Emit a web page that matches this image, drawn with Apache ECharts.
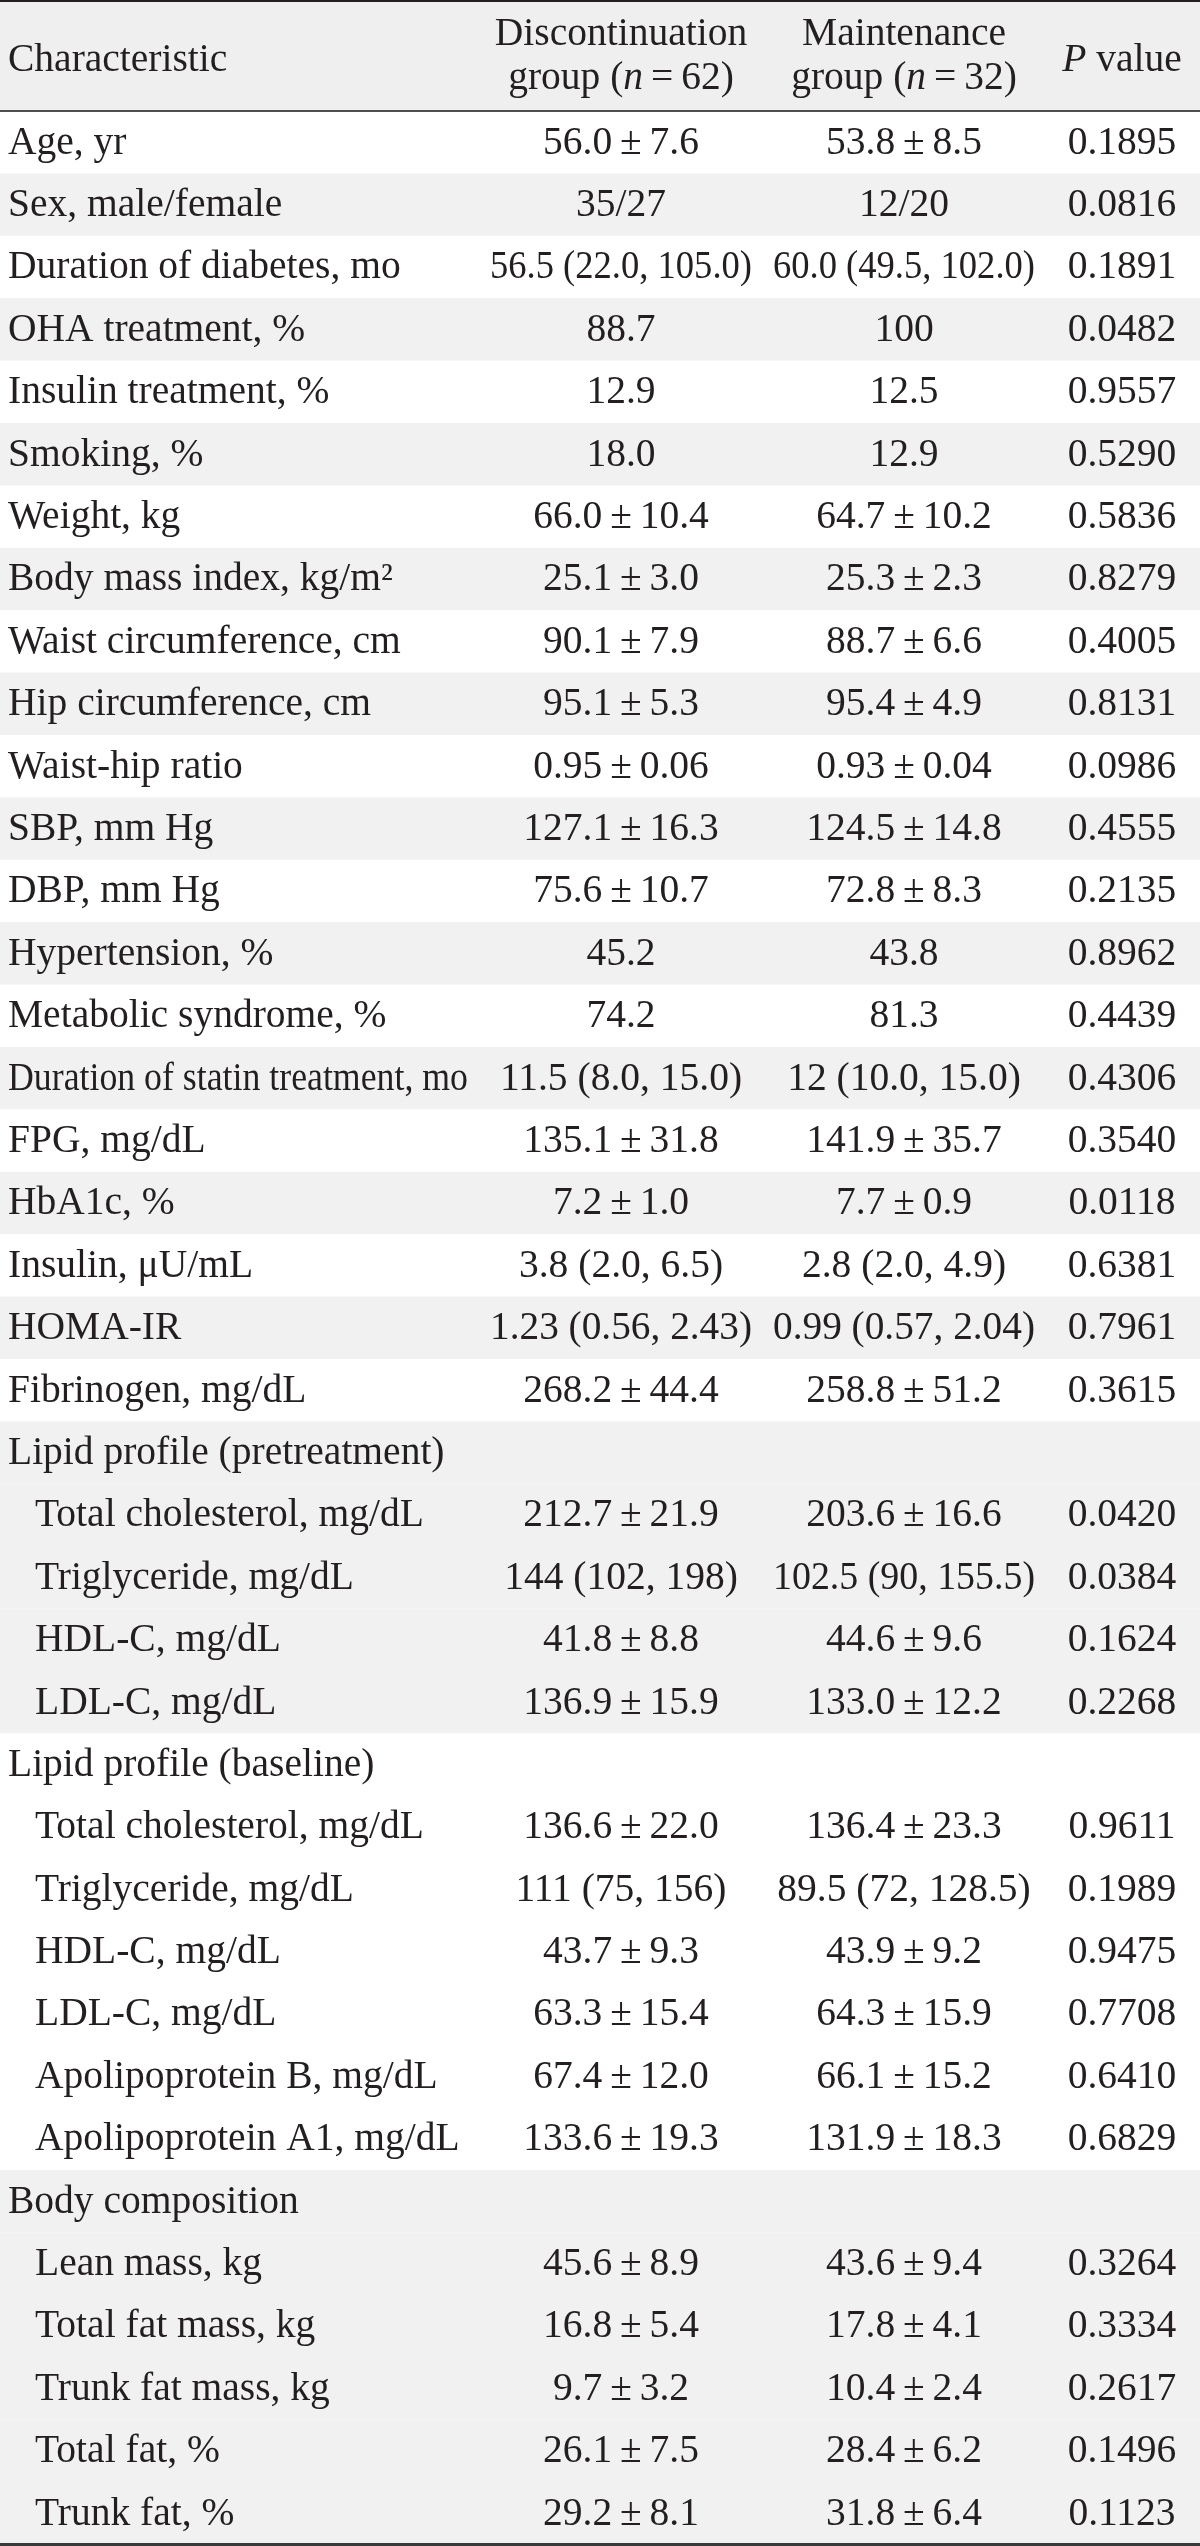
<!DOCTYPE html>
<html>
<head>
<meta charset="utf-8">
<script src="https://cdn.jsdelivr.net/npm/echarts@6/dist/echarts.min.js"></script>
<style>
html,body{margin:0;padding:0;background:#ffffff;}
#chart{width:1200px;height:2546px;}
</style>
</head>
<body>
<div id="chart"></div>
<script>
// ---------------- DATA ----------------
const columnHeaders = ["Characteristic", "Discontinuation\ngroup ({i|n}\u2009=\u200962)", "Maintenance\ngroup ({i|n}\u2009=\u200932)", "{i|P} value"];

const characteristics = [
  "Age, yr", "Sex, male/female", "Duration of diabetes, mo", "OHA treatment, %",
  "Insulin treatment, %", "Smoking, %", "Weight, kg", "Body mass index, kg/m\u00B2",
  "Waist circumference, cm", "Hip circumference, cm", "Waist-hip ratio", "SBP, mm Hg",
  "DBP, mm Hg", "Hypertension, %", "Metabolic syndrome, %", "Duration of statin treatment, mo",
  "FPG, mg/dL", "HbA1c, %", "Insulin, \u03BCU/mL", "HOMA-IR", "Fibrinogen, mg/dL",
  "Lipid profile (pretreatment)",
  "Total cholesterol, mg/dL", "Triglyceride, mg/dL", "HDL-C, mg/dL", "LDL-C, mg/dL",
  "Lipid profile (baseline)",
  "Total cholesterol, mg/dL", "Triglyceride, mg/dL", "HDL-C, mg/dL", "LDL-C, mg/dL",
  "Apolipoprotein B, mg/dL", "Apolipoprotein A1, mg/dL",
  "Body composition",
  "Lean mass, kg", "Total fat mass, kg", "Trunk fat mass, kg", "Total fat, %", "Trunk fat, %"
];

// 0 = top-level row, 1 = sub-item of the preceding section heading
const rowLevel = [
  0,0,0,0,0,0,0,0,0,0,0,0,0,0,0,0,0,0,0,0,0,
  0, 1,1,1,1,
  0, 1,1,1,1,1,1,
  0, 1,1,1,1,1
];

const discontinuation = [
  "56.0±7.6", "35/27", "56.5 (22.0, 105.0)", "88.7", "12.9", "18.0", "66.0±10.4", "25.1±3.0",
  "90.1±7.9", "95.1±5.3", "0.95±0.06", "127.1±16.3", "75.6±10.7", "45.2", "74.2", "11.5 (8.0, 15.0)",
  "135.1±31.8", "7.2±1.0", "3.8 (2.0, 6.5)", "1.23 (0.56, 2.43)", "268.2±44.4",
  null, "212.7±21.9", "144 (102, 198)", "41.8±8.8", "136.9±15.9",
  null, "136.6±22.0", "111 (75, 156)", "43.7±9.3", "63.3±15.4", "67.4±12.0", "133.6±19.3",
  null, "45.6±8.9", "16.8±5.4", "9.7±3.2", "26.1±7.5", "29.2±8.1"
];

const maintenance = [
  "53.8±8.5", "12/20", "60.0 (49.5, 102.0)", "100", "12.5", "12.9", "64.7±10.2", "25.3±2.3",
  "88.7±6.6", "95.4±4.9", "0.93±0.04", "124.5±14.8", "72.8±8.3", "43.8", "81.3", "12 (10.0, 15.0)",
  "141.9±35.7", "7.7±0.9", "2.8 (2.0, 4.9)", "0.99 (0.57, 2.04)", "258.8±51.2",
  null, "203.6±16.6", "102.5 (90, 155.5)", "44.6±9.6", "133.0±12.2",
  null, "136.4±23.3", "89.5 (72, 128.5)", "43.9±9.2", "64.3±15.9", "66.1±15.2", "131.9±18.3",
  null, "43.6±9.4", "17.8±4.1", "10.4±2.4", "28.4±6.2", "31.8±6.4"
];

const pValues = [
  "0.1895", "0.0816", "0.1891", "0.0482", "0.9557", "0.5290", "0.5836", "0.8279",
  "0.4005", "0.8131", "0.0986", "0.4555", "0.2135", "0.8962", "0.4439", "0.4306",
  "0.3540", "0.0118", "0.6381", "0.7961", "0.3615",
  null, "0.0420", "0.0384", "0.1624", "0.2268",
  null, "0.9611", "0.1989", "0.9475", "0.7708", "0.6410", "0.6829",
  null, "0.3264", "0.3334", "0.2617", "0.1496", "0.1123"
];

// ---------------- LAYOUT / STYLE ----------------
const STYLE = {
  font: '"Liberation Serif", "Times New Roman", "DejaVu Serif", serif',
  size: 39.5,
  ink: '#231f20',
  band: '#f0f1f0',
  headBg: '#eeefee',
  firstColX: 8,
  indent: 27,
  colCenters: [621, 904, 1122],
  col1Max: 460,
  colMax: 262,
  headLine: 44
};

// shading: each top-level row opens a new block; blocks alternate white / grey
const shaded = [];
(function(){
  let block = -1;
  rowLevel.forEach(function(lv){ if (lv === 0) block++; shaded.push(block % 2 === 1); });
})();

const measureCtx = document.createElement('canvas').getContext('2d');
function textWidth(s){
  measureCtx.font = STYLE.size + 'px ' + STYLE.font;
  return measureCtx.measureText(s).width;
}
function fmt(s){ return s.replace('±', '\u2009±\u2009'); }

function textEl(str, x, y, align, maxW){
  let sx = 1;
  if (maxW){ const w = textWidth(str); if (w > maxW) sx = maxW / w; }
  return {
    type: 'text', x: x, y: y, scaleX: sx, scaleY: 1, silent: true,
    style: { text: str, fontSize: STYLE.size, fontFamily: STYLE.font, fill: STYLE.ink, align: align, verticalAlign: 'middle' }
  };
}

function renderBody(params, api){
  const i = api.value(1);
  const cs = params.coordSys;
  const y = api.coord([0, i])[1];
  const h = api.size([0, 1])[1];
  const children = [];
  if (shaded[i]) {
    children.push({ type: 'rect', silent: true, shape: { x: cs.x, y: y - h / 2, width: cs.width, height: h }, style: { fill: STYLE.band } });
  }
  const indent = rowLevel[i] ? STYLE.indent : 0;
  const x1 = api.coord([STYLE.firstColX + indent, i])[0];
  children.push(textEl(characteristics[i], x1, y + 1, 'left', STYLE.col1Max - indent));
  const cols = [discontinuation[i], maintenance[i], pValues[i]];
  cols.forEach(function(v, k){
    if (v == null) return;
    const cx = api.coord([STYLE.colCenters[k], i])[0];
    children.push(textEl(fmt(v), cx, y + 1, 'center', k < 2 ? STYLE.colMax : 0));
  });
  return { type: 'group', children: children };
}

function renderHead(params, api){
  const cs = params.coordSys;
  const y = api.coord([0, 0])[1];
  const children = [{ type: 'rect', silent: true, shape: { x: cs.x, y: cs.y, width: cs.width, height: cs.height }, style: { fill: STYLE.headBg } }];
  const rich = { i: { fontStyle: 'italic', fontSize: STYLE.size, fontFamily: STYLE.font, fill: STYLE.ink, lineHeight: STYLE.headLine } };
  children.push({ type: 'text', silent: true, x: api.coord([STYLE.firstColX, 0])[0], y: y + 5,
    style: { text: columnHeaders[0], fontSize: STYLE.size, fontFamily: STYLE.font, fill: STYLE.ink, align: 'left', verticalAlign: 'middle' } });
  for (let k = 1; k < columnHeaders.length; k++) {
    children.push({ type: 'text', silent: true, x: api.coord([STYLE.colCenters[k - 1], 0])[0], y: y + (k === 3 ? 5 : 1),
      style: { text: columnHeaders[k], rich: rich, fontSize: STYLE.size, fontFamily: STYLE.font, fill: STYLE.ink,
        lineHeight: STYLE.headLine, align: 'center', verticalAlign: 'middle' } });
  }
  return { type: 'group', children: children };
}

const hiddenAxisParts = { axisTick: { show: false }, axisLabel: { show: false }, splitLine: { show: false } };

const chart = echarts.init(document.getElementById('chart'), null, { renderer: 'canvas' });
chart.setOption({
  animation: false,
  backgroundColor: '#ffffff',
  grid: [
    { left: 0, right: 0, top: 111, bottom: 1.5 },
    { left: 0, right: 0, top: 1, height: 110 }
  ],
  xAxis: [
    Object.assign({ type: 'value', gridIndex: 0, min: 0, max: 1200, position: 'top', z: 10,
      axisLine: { show: true, lineStyle: { color: '#4f4f4f', width: 2 } } }, hiddenAxisParts),
    Object.assign({ type: 'value', gridIndex: 1, min: 0, max: 1200, position: 'top', z: 10,
      axisLine: { show: true, lineStyle: { color: '#231f20', width: 2 } } }, hiddenAxisParts),
    Object.assign({ type: 'value', gridIndex: 0, min: 0, max: 1200, position: 'bottom', z: 10,
      axisLine: { show: true, lineStyle: { color: '#3a3a3a', width: 3 } } }, hiddenAxisParts)
  ],
  yAxis: [
    { type: 'category', gridIndex: 0, inverse: true, data: characteristics.map(function(c, i){ return 'r' + i; }), show: false },
    { type: 'category', gridIndex: 1, data: ['header'], show: false }
  ],
  series: [
    { type: 'custom', xAxisIndex: 0, yAxisIndex: 0, renderItem: renderBody, clip: false,
      data: characteristics.map(function(c, i){ return [0, i]; }) },
    { type: 'custom', xAxisIndex: 1, yAxisIndex: 1, renderItem: renderHead, clip: false,
      data: [[0, 0]] }
  ]
});
</script>
</body>
</html>
